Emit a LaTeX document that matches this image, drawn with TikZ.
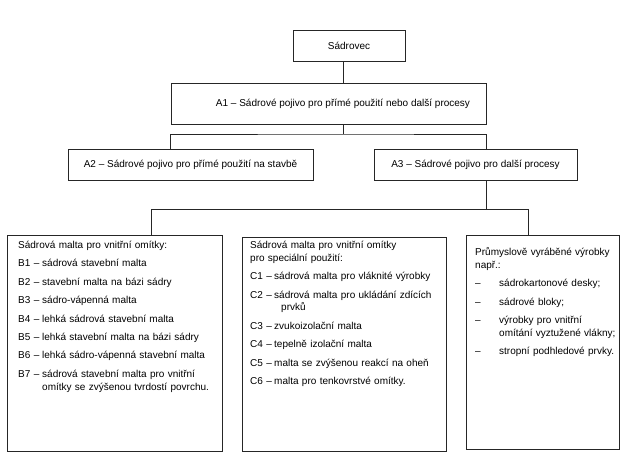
\documentclass[tikz,border=0pt]{standalone}
\usepackage{fontspec}
\setmainfont{Liberation Sans}
\usetikzlibrary{positioning}
\newcommand{\tenpt}{\fontsize{10}{12.8}\selectfont}
\newlength{\entrywd}
\newcommand{\entry}[2]{\par\hangindent=\entrywd\hangafter=1\noindent\makebox[\entrywd][l]{#1}#2}
\newcommand{\wrapline}{\hfil\break}

\begin{document}
\begin{tikzpicture}[
  x=1pt, y=-1pt,
  font=\tenpt,
  box/.style={draw=black!85, line width=0.8pt, inner sep=0pt},
  topbox/.style={box, minimum height=31pt},
  listbox/.style={box},
  listtext/.style={anchor=base west, inner sep=0pt,
                   execute at begin node={\raggedright\setlength{\parskip}{5.6pt}\setlength{\parindent}{0pt}}},
  link/.style={draw=black!85, line width=0.8pt},
]
\useasboundingbox (0,0) rectangle (628,469);
% top of the tree
\node[topbox, minimum width=112pt] (sadrovec) at (349,45.5) {Sádrovec};
\node[box, minimum width=315pt, minimum height=41pt] (a1) at (328.5,103.5)
  {\hspace*{29pt}A1 – Sádrové pojivo pro přímé použití nebo další procesy};
\node[topbox, minimum width=245pt] (a2) at (190.5,164.5)
  {A2 – Sádrové pojivo pro přímé použití na stavbě};
\node[topbox, minimum width=203pt] (a3) at (475.5,164.5)
  {A3 – Sádrové pojivo pro další procesy};
% lower boxes
\node[listbox, minimum width=215pt, minimum height=216pt] (blist) at (114.5,343) {};
\node[listbox, minimum width=204pt, minimum height=214pt] (clist) at (344,344) {};
\node[listbox, minimum width=153pt, minimum height=214pt] (dlist) at (542.5,342) {};
\node[listtext, text width=202pt] (btext) at (18,248.5) {%
  \setlength{\entrywd}{24pt}%
  Sádrová malta pro vnitřní omítky:
  \entry{B1 –}{sádrová stavební malta}
  \entry{B2 –}{stavební malta na bázi sádry}
  \entry{B3 –}{sádro-vápenná malta}
  \entry{B4 –}{lehká sádrová stavební malta}
  \entry{B5 –}{lehká stavební malta na bázi sádry}
  \entry{B6 –}{lehká sádro-vápenná stavební malta}
  \entry{B7 –}{sádrová stavební malta pro vnitřní\wrapline omítky se zvýšenou tvrdostí povrchu.}\par};
\node[listtext, text width=192pt] (ctext) at (250,248.5) {%
  \setlength{\entrywd}{24pt}%
  Sádrová malta pro vnitřní omítky\\pro speciální použití:
  \entry{C1 –}{sádrová malta pro vláknité výrobky}
  \entry{C2 –}{sádrová malta pro ukládání zdících\wrapline\hspace*{7pt}prvků}
  \entry{C3 –}{zvukoizolační malta}
  \entry{C4 –}{tepelně izolační malta}
  \entry{C5 –}{malta se zvýšenou reakcí na oheň}
  \entry{C6 –}{malta pro tenkovrstvé omítky.}\par};
\node[listtext, text width=142pt] (dtext) at (475,255.5) {%
  \setlength{\entrywd}{24pt}%
  Průmyslově vyráběné výrobky\\např.:
  \entry{–}{sádrokartonové desky;}
  \entry{–}{sádrové bloky;}
  \entry{–}{výrobky pro vnitřní\wrapline omítání vyztužené vlákny;}
  \entry{–}{stropní podhledové prvky.}\par};
% connectors
\coordinate (split1) at (343,134);
\coordinate (fork) at (486,209);
\coordinate (bjoin) at (151,209);
\coordinate (djoin) at (528,209);
\draw[link] (sadrovec.south -| split1) -- (split1 |- a1.north);
\draw[link] (a1.south -| split1) -- (split1);
\draw[link] (a2.north -| a1.west) |- (split1) -| (a3.north -| a1.east);
\draw[link] (a3.south -| fork) -- (fork);
\draw[link] (bjoin |- blist.north) -- (bjoin) -- (djoin) -- (djoin |- dlist.north);
\end{tikzpicture}
\end{document}
